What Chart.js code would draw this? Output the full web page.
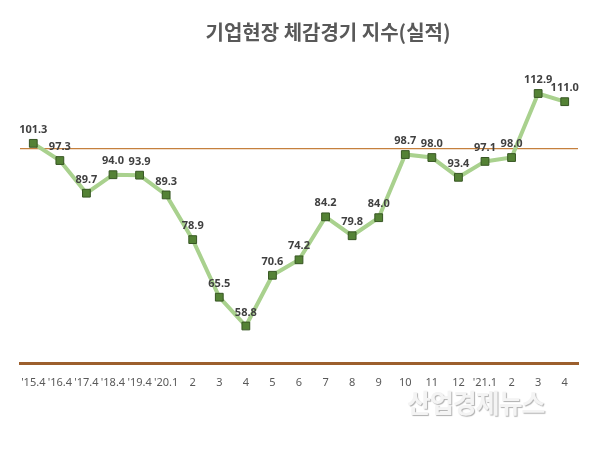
<!DOCTYPE html>
<html>
<head>
<meta charset="utf-8">
<script src="https://cdn.jsdelivr.net/npm/chart.js@4.4.1/dist/chart.umd.min.js"></script>
<style>
    html, body { margin: 0; padding: 0; background: #fff; }
    #wrap { position: relative; width: 593px; height: 456px; }
    #title {
        position: absolute; left: 198px; top: 17px; width: 260px;
        font-family: "Noto Sans CJK KR", sans-serif; font-weight: bold;
        font-size: 20px; color: #595959; text-align: center; white-space: nowrap;
    }
    #mark {
        position: absolute; left: 407px; top: 383px;
        font-family: "Noto Sans CJK KR", sans-serif; font-weight: bold;
        font-size: 26px; color: #f4f4f4; letter-spacing: -1px;
        text-shadow: 1px 1px 1px #b0b0b0, -1px -1px 0 #ffffff;
    }
</style>
</head>
<body>
<div id="wrap">
    <canvas id="chart" width="593" height="456"></canvas>
    <div id="title">기업현장 체감경기 지수(실적)</div>
    <div id="mark">산업경제뉴스</div>
</div>
<script>
const periods = ["'15.4", "'16.4", "'17.4", "'18.4", "'19.4", "'20.1", "2", "3", "4", "5", "6", "7", "8", "9", "10", "11", "12", "'21.1", "2", "3", "4"];
const bsiValues = [101.3, 97.3, 89.7, 94.0, 93.9, 89.3, 78.9, 65.5, 58.8, 70.6, 74.2, 84.2, 79.8, 84.0, 98.7, 98.0, 93.4, 97.1, 98.0, 112.9, 111.0];

// value labels drawn above each marker
const valueLabels = {
    id: 'valueLabels',
    afterDatasetsDraw(chart) {
        const ctx = chart.ctx;
        const meta = chart.getDatasetMeta(0);
        ctx.save();
        ctx.font = 'bold 11px "Noto Sans", sans-serif';
        ctx.fillStyle = '#404040';
        ctx.textAlign = 'center';
        ctx.textBaseline = 'bottom';
        meta.data.forEach((pt, i) => {
            ctx.fillText(bsiValues[i].toFixed(1), pt.x, pt.y - 8);
        });
        ctx.restore();
    }
};

new Chart(document.getElementById('chart').getContext('2d'), {
    type: 'line',
    data: {
        labels: periods,
        datasets: [{
            data: bsiValues,
            borderColor: '#a9d18e',
            borderWidth: 4,
            tension: 0,
            pointStyle: 'rect',
            pointRadius: 5.5,
            pointHoverRadius: 5.5,
            pointBackgroundColor: '#548235',
            pointBorderColor: '#375623',
            pointBorderWidth: 1
        }]
    },
    options: {
        responsive: false,
        animation: false,
        events: [],
        layout: { padding: { left: 20, right: 15, top: 63, bottom: 63 } },
        plugins: {
            legend: { display: false },
            tooltip: { enabled: false }
        },
        scales: {
            x: {
                offset: true,
                grid: { display: false },
                border: { display: true, color: '#9c5f2d', width: 3 },
                ticks: {
                    color: '#595959',
                    font: { family: '"Noto Sans", sans-serif', size: 11 },
                    maxRotation: 0,
                    autoSkip: false,
                    padding: 4
                }
            },
            y: {
                min: 50,
                max: 120,
                ticks: { display: false, stepSize: 10 },
                border: { display: false },
                grid: {
                    drawTicks: false,
                    lineWidth: 1.3,
                    color: ctx => ctx.tick && ctx.tick.value === 100 ? '#c5803d' : 'rgba(0,0,0,0)'
                }
            }
        }
    },
    plugins: [valueLabels]
});
</script>
</body>
</html>
